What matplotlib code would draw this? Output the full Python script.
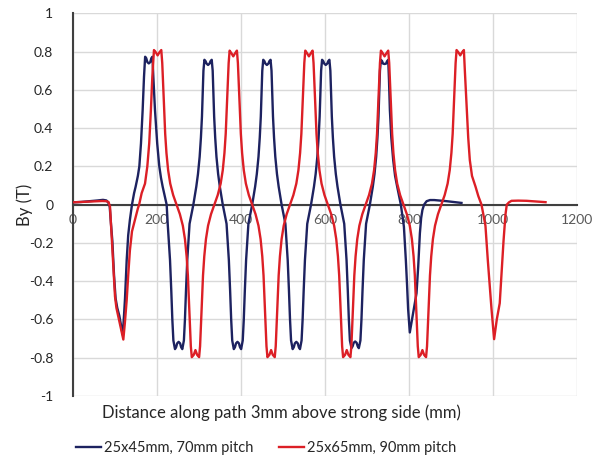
import matplotlib
matplotlib.use("Agg")
import matplotlib.pyplot as plt
from matplotlib.lines import Line2D

plt.rcParams['font.family'] = ['Lato', 'DejaVu Sans']
plt.rcParams['axes.unicode_minus'] = False

# 25x45mm, 70mm pitch
blue_x = [0, 20, 40, 60, 72, 80, 85, 88, 91, 94.3, 98.3, 102, 106, 110.8, 115, 119, 122, 124.4,
          128.4, 132, 136, 141, 146, 149.7, 155, 158.5, 162.4, 166.4, 169.6, 172.3, 175, 177.5,
          181, 184.5, 187, 189.7, 191.8, 195.7, 201, 206, 210, 214, 219, 223.5,
          226, 229, 231.5, 234.5, 237, 239.5, 243.3, 246, 248.5, 252, 255.5, 258, 260.7, 264.5,
          267, 269.5, 272.5, 275, 278, 287,
          294, 298, 302, 305, 307.5, 309.2, 311, 313.3, 316, 318.5, 322, 325.5, 328, 330.7, 333,
          334.8, 336.5, 339, 342, 346, 350, 357,
          366, 369, 371.5, 374.5, 377, 379.5, 383.3, 386, 388.5, 392, 395.5, 398, 400.7, 404.5,
          407, 409.5, 412.5, 415, 418, 427,
          434, 438, 442, 445, 447.5, 449.2, 451, 453.3, 456, 458.5, 462, 465.5, 468, 470.7, 473,
          474.8, 476.5, 479, 482, 486, 490, 497,
          506, 509, 511.5, 514.5, 517, 519.5, 523.3, 526, 528.5, 532, 535.5, 538, 540.7, 544.5,
          547, 549.5, 552.5, 555, 558, 567,
          574, 578, 582, 585, 587.5, 589.2, 591, 593.3, 596, 598.5, 602, 605.5, 608, 610.7, 613,
          614.8, 616.5, 619, 622, 626, 630, 637,
          646, 649, 651.5, 654.5, 657, 659.5, 663.3, 666, 668.5, 672, 675.5, 678, 680.7, 684.5,
          687, 689.5, 692.5, 695, 698, 707,
          714, 718, 722, 725, 727.5, 729.2, 731, 733.3, 736, 738.5, 742, 745.5, 748, 750.7,
          752.5, 754.6, 758, 762.5, 767, 772, 780.7, 788, 792.6, 795.5, 798, 802, 810, 818,
          822, 826, 829, 832, 836, 842, 850, 860, 875, 890, 910, 925]
blue_y = [0.012, 0.014, 0.018, 0.022, 0.025, 0.022, 0.01, -0.01, -0.1, -0.19, -0.37, -0.49,
          -0.54, -0.58, -0.63, -0.68, -0.58, -0.49, -0.29, -0.16, -0.08, 0.0, 0.06, 0.094, 0.15,
          0.2, 0.32, 0.495, 0.668, 0.773, 0.765, 0.745, 0.738, 0.745, 0.765, 0.773, 0.668, 0.495,
          0.32, 0.2, 0.14, 0.094, 0.045, 0.0,
          -0.10, -0.20, -0.29, -0.45, -0.6, -0.71, -0.755, -0.745, -0.725, -0.717, -0.725, -0.745,
          -0.755, -0.71, -0.6, -0.45, -0.29, -0.20, -0.10, 0.0,
          0.094, 0.16, 0.25, 0.35, 0.46, 0.58, 0.70, 0.757, 0.75, 0.737, 0.73, 0.737, 0.75, 0.757,
          0.70, 0.58, 0.46, 0.35, 0.25, 0.16, 0.094, 0.0,
          -0.10, -0.20, -0.29, -0.45, -0.6, -0.71, -0.755, -0.745, -0.725, -0.717, -0.725, -0.745,
          -0.755, -0.71, -0.6, -0.45, -0.29, -0.20, -0.10, 0.0,
          0.094, 0.16, 0.25, 0.35, 0.46, 0.58, 0.70, 0.757, 0.75, 0.737, 0.73, 0.737, 0.75, 0.757,
          0.70, 0.58, 0.46, 0.35, 0.25, 0.16, 0.094, 0.0,
          -0.10, -0.20, -0.29, -0.45, -0.6, -0.71, -0.755, -0.745, -0.725, -0.717, -0.725, -0.745,
          -0.755, -0.71, -0.6, -0.45, -0.29, -0.20, -0.10, 0.0,
          0.094, 0.16, 0.25, 0.35, 0.46, 0.58, 0.70, 0.757, 0.75, 0.737, 0.73, 0.737, 0.75, 0.757,
          0.70, 0.58, 0.46, 0.35, 0.25, 0.16, 0.094, 0.0,
          -0.10, -0.20, -0.29, -0.45, -0.6, -0.71, -0.75, -0.74, -0.722, -0.715, -0.722, -0.74,
          -0.75, -0.71, -0.6, -0.45, -0.29, -0.20, -0.10, 0.0,
          0.094, 0.16, 0.25, 0.35, 0.46, 0.58, 0.70, 0.757, 0.75, 0.737, 0.735, 0.737, 0.75, 0.757,
          0.65, 0.495, 0.35, 0.233, 0.15, 0.094, 0.0, -0.115, -0.29, -0.42, -0.545, -0.668,
          -0.567, -0.463, -0.324, -0.15, -0.07, -0.028, 0.0, 0.018, 0.024, 0.024, 0.021, 0.018,
          0.013, 0.009]

# 25x65mm, 90mm pitch
red_x = [0, 20, 40, 60, 70, 80, 85, 88.7, 91, 94, 97, 100.6, 104, 108.5, 114, 120.4, 124, 128.4,
         132, 136, 141, 148, 155, 158, 164, 172, 177.5, 182, 186, 189.4,
         193.3, 198, 202, 206, 210.7, 213, 215, 217, 220, 223, 227, 232, 239, 247,
         255, 262, 267, 271, 274, 277, 279, 281, 283.3, 288, 292, 296, 300.7, 303, 305, 307,
         310, 313, 317, 322, 329, 337,
         345, 352, 357, 361, 364, 367, 369, 371, 373.3, 378, 382, 386, 390.7, 393, 395, 397,
         400, 403, 407, 412, 419, 427,
         435, 442, 447, 451, 454, 457, 459, 461, 463.3, 468, 472, 476, 480.7, 483, 485, 487,
         490, 493, 497, 502, 509, 517,
         525, 532, 537, 541, 544, 547, 549, 551, 553.3, 558, 562, 566, 570.7, 573, 575, 577,
         580, 583, 587, 592, 599, 607,
         615, 622, 627, 631, 634, 637, 639, 641, 643.3, 648, 652, 656, 660.7, 663, 665, 667,
         670, 673, 677, 682, 689, 697,
         705, 712, 717, 721, 724, 727, 729, 731, 733.3, 738, 742, 746, 750.7, 753, 755, 757,
         760, 763, 767, 772, 779, 787,
         795, 802, 807, 811, 814, 817, 819, 821, 823.3, 828, 832, 836, 840.7, 843, 845, 847,
         850, 853, 857, 862, 869, 877,
         885, 892, 897, 901, 904, 907, 909, 911, 913.3, 918, 922, 926, 930.7, 933, 937.7, 941,
         944.8, 950, 958.4, 965, 972.6, 982, 987.6, 992, 996.4, 1002.6, 1009, 1016, 1020, 1025,
         1029.7, 1032.8, 1038, 1044, 1060, 1080, 1100, 1125]
red_y = [0.012, 0.014, 0.016, 0.018, 0.019, 0.018, 0.014, -0.01, -0.1, -0.22, -0.34, -0.48, -0.54,
         -0.585, -0.64, -0.705, -0.62, -0.5, -0.37, -0.24, -0.14, -0.08, -0.02, 0.0, 0.06, 0.11,
         0.2, 0.32, 0.495, 0.668,
         0.808, 0.795, 0.78, 0.795, 0.808, 0.74, 0.64, 0.53, 0.37, 0.27, 0.18, 0.11, 0.05, 0.0,
         -0.05, -0.11, -0.18, -0.27, -0.37, -0.53, -0.64, -0.74, -0.797, -0.785, -0.76, -0.785,
         -0.797, -0.74, -0.64, -0.53, -0.37, -0.27, -0.18, -0.11, -0.05, 0.0,
         0.05, 0.11, 0.18, 0.27, 0.37, 0.53, 0.64, 0.74, 0.805, 0.79, 0.775, 0.79, 0.805, 0.74,
         0.64, 0.53, 0.37, 0.27, 0.18, 0.11, 0.05, 0.0,
         -0.05, -0.11, -0.18, -0.27, -0.37, -0.53, -0.64, -0.74, -0.797, -0.785, -0.76, -0.785,
         -0.797, -0.74, -0.64, -0.53, -0.37, -0.27, -0.18, -0.11, -0.05, 0.0,
         0.05, 0.11, 0.18, 0.27, 0.37, 0.53, 0.64, 0.74, 0.805, 0.79, 0.775, 0.79, 0.805, 0.74,
         0.64, 0.53, 0.37, 0.27, 0.18, 0.11, 0.05, 0.0,
         -0.05, -0.11, -0.18, -0.27, -0.37, -0.53, -0.64, -0.74, -0.797, -0.785, -0.76, -0.785,
         -0.797, -0.74, -0.64, -0.53, -0.37, -0.27, -0.18, -0.11, -0.05, 0.0,
         0.05, 0.11, 0.18, 0.27, 0.37, 0.53, 0.64, 0.74, 0.805, 0.79, 0.775, 0.79, 0.805, 0.74,
         0.64, 0.53, 0.37, 0.27, 0.18, 0.11, 0.05, 0.0,
         -0.05, -0.11, -0.18, -0.27, -0.37, -0.53, -0.64, -0.74, -0.797, -0.785, -0.76, -0.785,
         -0.797, -0.74, -0.64, -0.53, -0.37, -0.27, -0.18, -0.11, -0.05, 0.0,
         0.05, 0.11, 0.18, 0.27, 0.37, 0.53, 0.64, 0.74, 0.808, 0.795, 0.78, 0.795, 0.808, 0.7,
         0.495, 0.35, 0.233, 0.15, 0.094, 0.045, 0.0, -0.11, -0.29, -0.42, -0.545, -0.703,
         -0.6, -0.515, -0.37, -0.19, -0.05, 0.0, 0.012, 0.02, 0.021, 0.02, 0.017, 0.013]

x_ticks = [0, 200, 400, 600, 800, 1000, 1200]
y_ticks = [-1, -0.8, -0.6, -0.4, -0.2, 0, 0.2, 0.4, 0.6, 0.8, 1]
y_tick_labels = ['-1', '-0.8', '-0.6', '-0.4', '-0.2', '0', '0.2', '0.4', '0.6', '0.8', '1']

labels = ['25x45mm, 70mm pitch', '25x65mm, 90mm pitch']
navy = '#1d2260'
red = '#dc1f26'
grey_txt = '#595959'

fig = plt.figure(figsize=(6.03, 4.57), dpi=100)
ax = fig.add_axes([0.1206, 0.1335, 0.8364, 0.8374])

ax.plot(blue_x, blue_y, color=navy, lw=1.7, zorder=3)
ax.plot(red_x, red_y, color=red, lw=1.7, zorder=3)

ax.set_xlim(0, 1200)
ax.set_ylim(-1, 1)
ax.set_xticks(x_ticks)
ax.set_yticks(y_ticks)
ax.set_yticklabels(y_tick_labels)
ax.grid(True, color='#d9d9d9', lw=1)
ax.set_axisbelow(True)

for s in ['top', 'right']:
    ax.spines[s].set_visible(False)
ax.spines['bottom'].set_position(('data', 0))
ax.spines['bottom'].set_color('#404040')
ax.spines['bottom'].set_linewidth(1.5)
ax.spines['left'].set_color('#404040')
ax.spines['left'].set_linewidth(1.5)
ax.spines['bottom'].set_zorder(2.5)

ax.tick_params(axis='x', length=0, pad=7, labelsize=10, labelcolor=grey_txt)
ax.tick_params(axis='y', length=0, pad=14, labelsize=10, labelcolor='#262626')

fig.text(281.5 / 603, 1 - 413 / 457, 'Distance along path 3mm above strong side (mm)',
         ha='center', va='center', fontsize=12, color='#262626')
fig.text(25 / 603, 1 - 205 / 457, 'By (T)', ha='center', va='center', rotation=90,
         fontsize=12, color='#262626')

handles = [Line2D([], [], color=navy, lw=1.7), Line2D([], [], color=red, lw=1.7)]
fig.legend(handles, labels, loc='center', bbox_to_anchor=(266 / 603, 1 - 448 / 457), ncol=2,
           frameon=False, fontsize=10.5, handlelength=1.7, handletextpad=0.2,
           columnspacing=1.8, labelcolor='#262626')

fig.savefig('out.png', dpi=100)
